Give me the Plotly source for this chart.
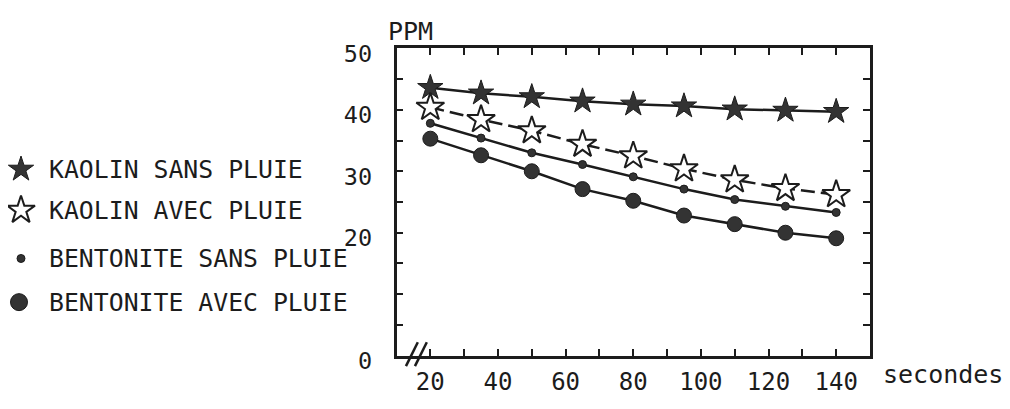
import plotly.graph_objects as go

# ---- data ----
seconds = [20, 35, 50, 65, 80, 95, 110, 125, 140]
kaolin_sans = [43.6, 42.7, 42.1, 41.4, 40.9, 40.6, 40.1, 39.9, 39.7]
kaolin_avec = [40.4, 38.4, 36.6, 34.4, 32.5, 30.4, 28.6, 27.2, 26.2]
bento_sans = [37.8, 35.4, 33.0, 31.1, 29.1, 27.1, 25.4, 24.3, 23.3]
bento_avec = [35.3, 32.6, 30.0, 27.1, 25.2, 22.8, 21.4, 20.0, 19.1]

series_names = ["KAOLIN SANS PLUIE", "KAOLIN AVEC PLUIE",
                "BENTONITE SANS PLUIE", "BENTONITE AVEC PLUIE"]

x_tickvals = [20, 30, 40, 50, 60, 70, 80, 90, 100, 110, 120, 130, 140]
x_ticktext = ["20", "", "40", "", "60", "", "80", "", "100", "", "120", "", "140"]
y_tickvals = [0, 5, 10, 15, 20, 25, 30, 35, 40, 45, 50]
y_ticktext = ["0", "", "", "", "20", "", "30", "", "40", "", "50"]

FONT = "DejaVu Sans Mono, Liberation Mono, monospace"
INK = "#1c1c1c"
FILL = "#333333"

styles = [
    dict(marker=dict(symbol="star", size=19, color=FILL, line=dict(color=INK, width=1)),
         line=dict(color=INK, width=2.5)),
    dict(marker=dict(symbol="star", size=21, color="white", line=dict(color=INK, width=2)),
         line=dict(color=INK, width=2.5, dash="14px,6px")),
    dict(marker=dict(symbol="circle", size=8, color=FILL, line=dict(color=INK, width=1)),
         line=dict(color=INK, width=2.5)),
    dict(marker=dict(symbol="circle", size=15, color=FILL, line=dict(color=INK, width=1)),
         line=dict(color=INK, width=2.5)),
]
legend_sizes = [19, 21, 8, 17]
values = [kaolin_sans, kaolin_avec, bento_sans, bento_avec]

# page offset (default body margin) and figure size so it fits the window
OFF = 8
W, H = 1010 - 2 * OFF, 409 - 2 * OFF


def fx(p):
    return (p - OFF) / W


def fy(p):
    return 1 - (p - OFF) / H


fig = go.Figure()
for name, vals, st in zip(series_names, values, styles):
    fig.add_trace(go.Scatter(x=seconds, y=vals, mode="lines+markers", name=name,
                             marker=st["marker"], line=st["line"], showlegend=False,
                             cliponaxis=False, hoverinfo="skip"))

# legend drawn on an overlay axis whose units are page pixels
legend_x = [21, 21, 21, 19]
legend_y = [172, 216, 268, 315]
for name, st, sz, lx, ly in zip(series_names, styles, legend_sizes, legend_x, legend_y):
    m = dict(st["marker"])
    m["size"] = sz
    fig.add_trace(go.Scatter(x=[lx], y=[ly], mode="markers", marker=m,
                             xaxis="x2", yaxis="y2", showlegend=False,
                             cliponaxis=False, hoverinfo="skip"))
    fig.add_annotation(x=48, y=ly, xref="x2", yref="y2", text=name, showarrow=False,
                       xanchor="left", yanchor="middle", height=28, borderpad=0,
                       font=dict(family=FONT, size=24.8, color=INK))

left, right, top, bottom = 396.5, 870, 41.7, 372.7   # page px of the frame

fig.update_layout(
    width=W, height=H,
    margin=dict(l=0, r=0, t=0, b=0),
    paper_bgcolor="white", plot_bgcolor="rgba(0,0,0,0)",
    font=dict(family=FONT, size=23, color=INK),
    xaxis=dict(domain=[fx(left), fx(right)], range=[10, 150],
               tickvals=x_tickvals, ticktext=x_ticktext,
               ticks="inside", ticklen=7, tickwidth=2, tickcolor=INK,
               showline=True, linewidth=2.5, linecolor=INK, mirror="ticks",
               showgrid=False, zeroline=False, ticklabelstandoff=3,
               tickfont=dict(family=FONT, size=24, color=INK)),
    yaxis=dict(domain=[fy(bottom), fy(top)], range=[0, 50],
               tickvals=y_tickvals, ticktext=y_ticktext,
               ticks="inside", ticklen=7, tickwidth=2, tickcolor=INK,
               showline=True, linewidth=2.5, linecolor=INK, mirror="ticks",
               showgrid=False, zeroline=False, ticklabelstandoff=17,
               ticklabelshift=5,
               tickfont=dict(family=FONT, size=23.5, color=INK)),
    xaxis2=dict(domain=[0, 1], range=[OFF, OFF + W], visible=False, fixedrange=True),
    yaxis2=dict(domain=[0, 1], range=[OFF + H, OFF], visible=False, fixedrange=True),
)

# axis labels
fig.add_annotation(x=fx(386), y=fy(24), xref="paper", yref="paper", text="PPM",
                   showarrow=False, xanchor="left", yanchor="middle",
                   font=dict(family=FONT, size=25, color=INK))
fig.add_annotation(x=fx(881), y=fy(393), xref="paper", yref="paper", text="secondes",
                   showarrow=False, xanchor="left", yanchor="middle",
                   font=dict(family=FONT, size=25, color=INK))

# axis break mark "//"
for x0, x1 in [(0.020, 0.045), (0.039, 0.064)]:
    fig.add_shape(type="line", xref="x domain", yref="y domain",
                  x0=x0, y0=-0.034, x1=x1, y1=0.044,
                  line=dict(color=INK, width=2.5))

fig.write_html("out.html", config={"displayModeBar": False})
